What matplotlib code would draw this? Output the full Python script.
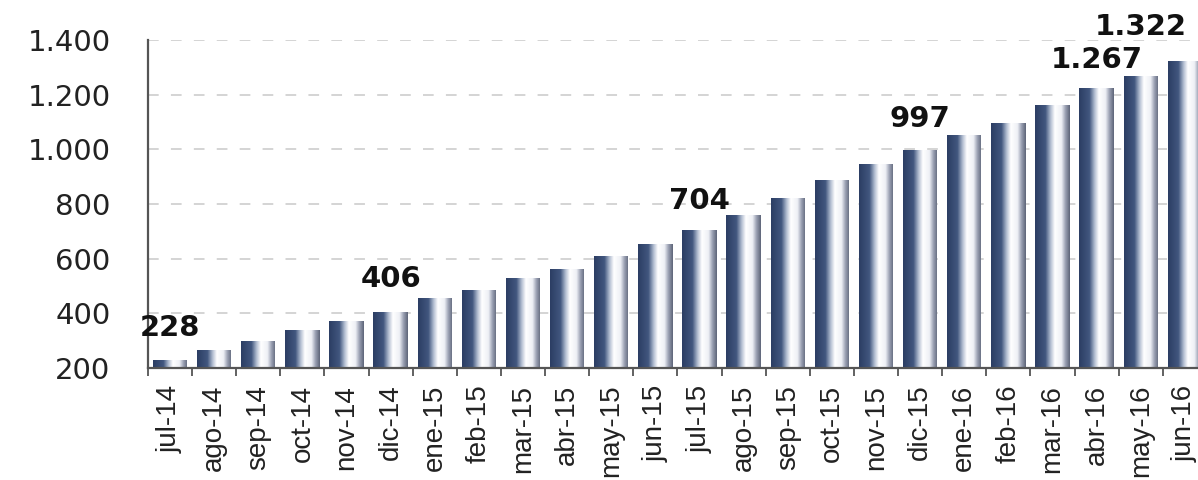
import numpy as np
import matplotlib
matplotlib.use('Agg')
import matplotlib.pyplot as plt
from matplotlib.colors import LinearSegmentedColormap


months = ['jul-14', 'ago-14', 'sep-14', 'oct-14', 'nov-14', 'dic-14',
          'ene-15', 'feb-15', 'mar-15', 'abr-15', 'may-15', 'jun-15',
          'jul-15', 'ago-15', 'sep-15', 'oct-15', 'nov-15', 'dic-15',
          'ene-16', 'feb-16', 'mar-16', 'abr-16', 'may-16', 'jun-16']
values = [228, 265, 300, 339, 373, 406,
          457, 484, 530, 562, 609, 655,
          704, 760, 821, 888, 946, 997,
          1051, 1098, 1163, 1223, 1267, 1322]

# months whose value gets printed above the bar
labelled = ['jul-14', 'dic-14', 'jul-15', 'dic-15', 'may-16', 'jun-16']
yticks = [200, 400, 600, 800, 1000, 1200, 1400]


def fmt(v):
  # spanish thousands separator
  return f'{v:,}'.replace(',', '.')


# navy -> white -> grey shading across each bar
bar_cmap = LinearSegmentedColormap.from_list('barshade', [
  (0.00, '#2b3d63'),
  (0.30, '#42577f'),
  (0.45, '#b4bfd2'),
  (0.57, '#ffffff'),
  (0.76, '#eef0f5'),
  (0.87, '#9ca2b4'),
  (1.00, '#5d6478'),
])

fig = plt.figure(figsize=(11.98, 4.8), dpi=100)
ax = fig.add_axes([0.1235, 0.2333, 0.884, 0.6833])

x = np.arange(len(months))
bars = ax.bar(x, values, width=0.78, color='none', edgecolor='none', zorder=2)

gradient = np.linspace(0, 1, 256).reshape(1, -1)
for b in bars:
  x0, y0 = b.get_x(), b.get_y()
  im = ax.imshow(gradient, cmap=bar_cmap, aspect='auto', zorder=2,
                 extent=[x0, x0 + b.get_width(), y0, y0 + b.get_height()])
  # clip to the bar outline while keeping the axes clip box
  im.set_clip_path(b.get_path(), b.get_transform())

ax.set_xlim(-0.5, len(months) - 0.5)
ax.set_ylim(200, 1400)

# value labels: offsets in categories / pixels
label_dx = [0, 0, 0, 0, -1, -1]
label_dy = [32, 33, 29, 31, 16, 34]
for m, dx, dy in zip(labelled, label_dx, label_dy):
  i = months.index(m)
  ax.annotate(fmt(values[i]), xy=(i + dx, values[i]), xytext=(0, dy * 0.72),
              textcoords='offset points', ha='center', va='center',
              fontsize=21, fontweight='bold', color='#111111',
              family='DejaVu Sans', zorder=4, annotation_clip=False)

# grid
for t in yticks[1:]:
  ax.axhline(t, color='#c9c9c9', lw=1.1, dashes=(7, 8), zorder=1)

ax.set_yticks(yticks)
ax.set_yticklabels([fmt(t) for t in yticks], fontsize=21, color='#222222',
                   family='DejaVu Sans')
ax.tick_params(axis='y', length=0, pad=27)

ax.set_xticks(x)
ax.set_xticklabels(months, rotation=90, fontsize=20, color='#222222',
                   family='Liberation Sans')
ax.set_xticks(np.arange(len(months) + 1) - 0.5, minor=True)
ax.tick_params(axis='x', which='major', length=0, pad=12)
ax.tick_params(axis='x', which='minor', length=6, width=1.3, color='#555555')

for s in ['top', 'right']:
  ax.spines[s].set_visible(False)
for s in ['left', 'bottom']:
  ax.spines[s].set_color('#555555')
  ax.spines[s].set_linewidth(1.6)

fig.savefig('out.png', dpi=100)
